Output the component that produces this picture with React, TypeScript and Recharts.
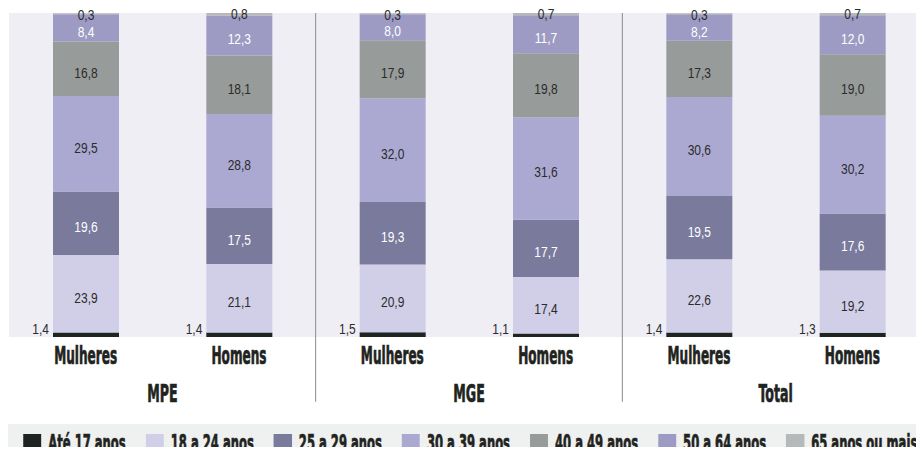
import React from 'react';
import { BarChart, Bar, XAxis, YAxis, CartesianGrid, ReferenceLine, LabelList, Legend } from 'recharts';

const categories = ['Mulheres', 'Homens', 'Mulheres', 'Homens', 'Mulheres', 'Homens'];
const groups = ['MPE', 'MPE', 'MGE', 'MGE', 'Total', 'Total'];
const separatorsAfter = ['MPE', 'MGE'];

const ate17 = [1.4, 1.4, 1.5, 1.1, 1.4, 1.3];
const a18a24 = [23.9, 21.1, 20.9, 17.4, 22.6, 19.2];
const a25a29 = [19.6, 17.5, 19.3, 17.7, 19.5, 17.6];
const a30a39 = [29.5, 28.8, 32.0, 31.6, 30.6, 30.2];
const a40a49 = [16.8, 18.1, 17.9, 19.8, 17.3, 19.0];
const a50a64 = [8.4, 12.3, 8.0, 11.7, 8.2, 12.0];
const a65mais = [0.3, 0.8, 0.3, 0.7, 0.3, 0.7];

const seriesNames = ['Até 17 anos', '18 a 24 anos', '25 a 29 anos', '30 a 39 anos', '40 a 49 anos', '50 a 64 anos', '65 anos ou mais'];
const seriesValues = [ate17, a18a24, a25a29, a30a39, a40a49, a50a64, a65mais];
const seriesColors = ['#1e2422', '#d1cfe7', '#7a7a9c', '#aba9d2', '#979b9a', '#9d9ac3', '#b6b9b9'];
const labelColors = ['#2b2b2b', '#2b2b2b', '#ffffff', '#2b2b2b', '#2b2b2b', '#ffffff', '#2b2b2b'];
const seriesKeys = seriesNames.map((_, k) => 's' + k);

const data = categories.map((c, i) => {
  const row: any = { id: groups[i] + '|' + c, category: c, group: groups[i] };
  seriesValues.forEach((vals, k) => {
    row[seriesKeys[k]] = vals[i];
  });
  return row;
});

const fmt = (v: number) => Number(v).toFixed(1).replace('.', ',');

const condBold = "'DejaVu Sans Condensed', 'DejaVu Sans', sans-serif";
const valueFont = "'Liberation Sans', Arial, sans-serif";
const INK = '#1f2421';
const SQ = 0.56; // horizontal squeeze for the condensed headline face
const VQ = 0.8;

const makeLabel = (k: number) => (props: any) => {
  const x = Number(props.x), y = Number(props.y), w = Number(props.width), h = Number(props.height);
  let tx = x + w / 2;
  let ty = y + h / 2 + 4;
  let anchor: 'middle' | 'end' = 'middle';
  if (k === 0) {
    tx = x - 4;
    ty = y + h - 8;
    anchor = 'end';
  } else if (k === seriesKeys.length - 1) {
    ty = y + 1.5;
  }
  return (
    <text transform={`translate(${tx},${ty}) scale(${VQ},1)`} textAnchor={anchor} dominantBaseline="central"
      style={{ fontFamily: valueFont, fontSize: 15, fill: labelColors[k] }}>
      {fmt(props.value)}
    </text>
  );
};

const CatTick = (props: any) => {
  const { x, y, index } = props;
  return (
    <text transform={`translate(${x},${Number(y) + 27}) scale(${SQ},1)`} textAnchor="middle"
      style={{ fontFamily: condBold, fontWeight: 700, fontSize: 24, fill: INK, stroke: INK, strokeWidth: 0.7 }}>
      {categories[index]}
    </text>
  );
};

const GroupTick = (props: any) => {
  const { x, y, payload } = props;
  return (
    <text transform={`translate(${x},${Number(y) + 29}) scale(${SQ},1)`} textAnchor="middle"
      style={{ fontFamily: condBold, fontWeight: 700, fontSize: 25, fill: INK, stroke: INK, strokeWidth: 0.7 }}>
      {payload.value}
    </text>
  );
};

const LegendContent = () => (
  <div style={{ display: 'flex', justifyContent: 'center', alignItems: 'center', height: 31, background: '#eff0f0', overflow: 'visible' }}>
    <div style={{ display: 'flex', alignItems: 'center', width: 'max-content', flexShrink: 0, gap: 20 / SQ, marginLeft: 9, marginTop: 7, height: 22, transform: `scaleX(${SQ})`, transformOrigin: '50% 50%' }}>
      {seriesNames.map((n, i) => (
        <div key={n} style={{ display: 'flex', alignItems: 'center', height: 22 }}>
          <span style={{ width: 18 / SQ, height: 18, background: seriesColors[i], marginRight: 7 / SQ, display: 'inline-block' }} />
          <span style={{ fontFamily: condBold, fontWeight: 700, fontSize: 23, color: INK, lineHeight: '22px', whiteSpace: 'nowrap', WebkitTextStroke: `0.7px ${INK}` }}>{n}</span>
        </div>
      ))}
    </div>
  </div>
);

export default function App() {
  return (
    <div style={{ margin: -8, width: 924, height: 455, overflow: 'hidden', background: '#ffffff' }}>
      <BarChart width={930} height={455} data={data} margin={{ top: 13, right: 1, left: 9, bottom: 0 }} barSize={66}>
        <CartesianGrid horizontal={false} vertical={false} fill="#efeef5" />
        <YAxis hide domain={[0, 100]} type="number" />
        <XAxis dataKey="id" axisLine={false} tickLine={false} tickSize={0} tickMargin={0} height={36} interval={0} tick={<CatTick />} />
        <XAxis xAxisId="g" dataKey="group" allowDuplicatedCategory={false} axisLine={false} tickLine={false} tickSize={0} tickMargin={0} height={51} interval={0} tick={<GroupTick />} />
        {seriesKeys.map((key, k) => (
          <Bar key={key} dataKey={key} stackId="a" fill={seriesColors[k]} isAnimationActive={false} name={seriesNames[k]}>
            <LabelList dataKey={key} content={makeLabel(k)} />
          </Bar>
        ))}
        {separatorsAfter.map((g) => (
          <ReferenceLine key={g} xAxisId="g" position="end" ifOverflow="visible" stroke="#8a8a8a" strokeWidth={1}
            segment={[{ x: g, y: 100 }, { x: g, y: -20 }]} />
        ))}
        <Legend verticalAlign="bottom" content={<LegendContent />} wrapperStyle={{ left: 7, width: 917, bottom: 0, height: 31 }} />
      </BarChart>
    </div>
  );
}
